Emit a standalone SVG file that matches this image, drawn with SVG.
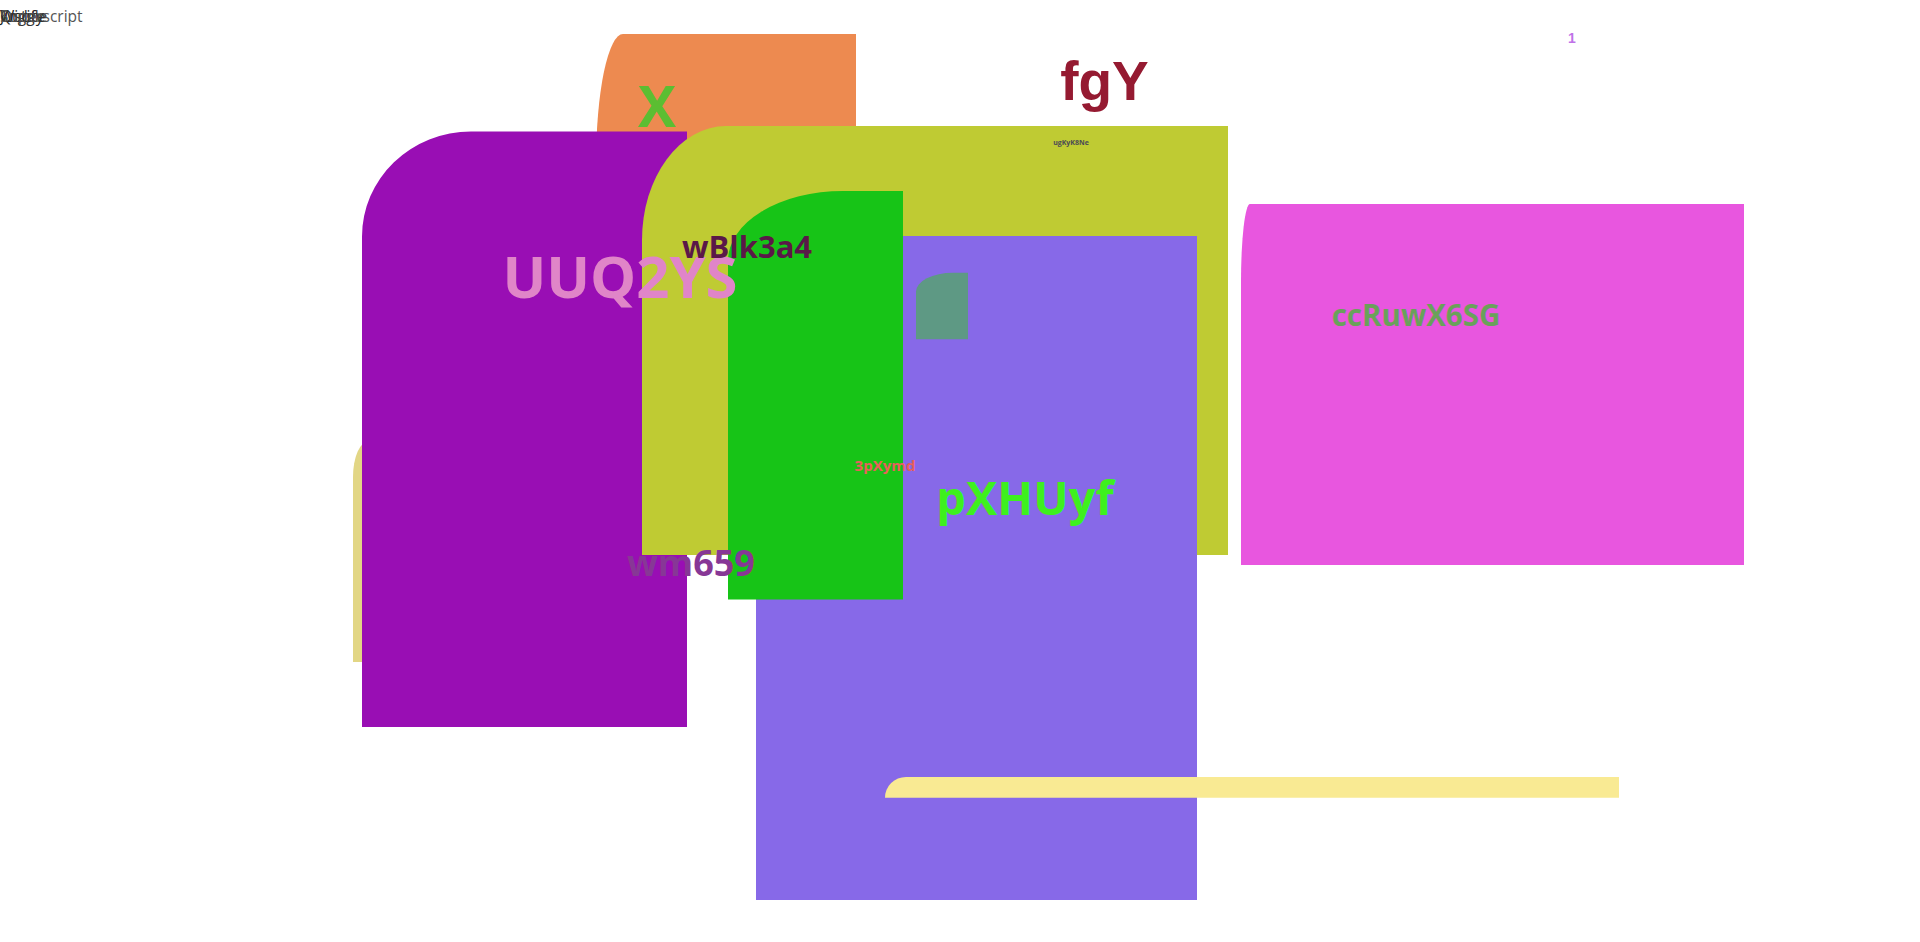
<svg xmlns="http://www.w3.org/2000/svg" width="1920" height="942" viewBox="0 0 1920 942">
<style>
.lbl{font-family:"Open Sans","Noto Sans","DejaVu Sans",sans-serif;font-weight:700;text-anchor:middle}
.arl{font-family:"Liberation Sans",Arial,sans-serif;font-weight:700;text-anchor:middle}
.ui{font-family:"Open Sans","Noto Sans",sans-serif;font-size:15.5px}
</style>
<rect width="1920" height="942" fill="#ffffff"/>
<g id="toolbar-text">
<text class="ui" x="0" y="22" fill="#222222">Justify</text>
<text class="ui" x="0" y="22" fill="#222222">Wide</text>
<text class="ui" x="0" y="22" fill="#333333">Toggle</text>
<text class="ui" x="0" y="22" fill="#333333">Quote</text>
<text class="ui" x="0" y="22" fill="#555555">Superscript</text>
</g>
<g id="node-yellow"><path d="M353,477 A16,36 0 0 1 369,441 H500 V662 H353 Z" fill="#E2D685"/></g>
<g id="node-orange"><path d="M596,164 A27,130 0 0 1 623,34 H856 V400 H596 Z" fill="#ED8A50"/></g>
<g id="node-purple"><path d="M362,236.5 A109,105 0 0 1 471,131.5 H687 V727 H362 Z" fill="#990EB4"/></g>
<g id="node-lime"><path d="M642,240 A84,114 0 0 1 726,126 H1228 V555 H642 Z" fill="#BFCB33"/></g>
<g id="node-violet"><rect x="756" y="236" width="441" height="664" fill="#8769E8"/></g>
<g id="node-green"><path d="M728,261 A115,70 0 0 1 843,191 H903 V599.5 H728 Z" fill="#17C417"/></g>
<g id="node-teal"><path d="M916,291.7 A37,19 0 0 1 953,272.7 H968 V339.3 H916 Z" fill="#5E9984"/></g>
<g id="node-pink"><path d="M1241,282 A9,78 0 0 1 1250,204 H1744 V565 H1241 Z" fill="#E856DF"/></g>
<g id="node-bar"><path d="M885,797.7 A21,20.7 0 0 1 906,777 H1619 V797.7 Z" fill="#F9EA93"/></g>
<g id="connectors"/>
<g id="labels">
<text class="lbl" x="657" y="127.3" font-size="57" fill="#5BBE32">X</text>
<text class="arl" x="1104.5" y="100" font-size="55" fill="#951A31">fgY</text>
<text class="arl" x="1572" y="42.7" font-size="14" fill="#C072E8">1</text>
<text class="lbl" x="1071" y="145" font-size="7" fill="#4B4A55">ugKyK8Ne</text>
<text class="lbl" x="620" y="298.3" font-size="58" fill="#E085C8">UUQ2YS</text>
<text class="lbl" x="747" y="258.3" font-size="31" fill="#5A1848">wBlk3a4</text>
<text class="lbl" x="885" y="471" font-size="15" fill="#E8605A">3pXymd</text>
<text class="lbl" x="1025" y="515" font-size="47" fill="#3EF01E">pXHUyf</text>
<text class="lbl" x="691" y="576" font-size="36" fill="#873796">wm659</text>
<text class="lbl" x="1416" y="326" font-size="29.5" fill="#6AA15A">ccRuwX6SG</text>
</g>
</svg>
